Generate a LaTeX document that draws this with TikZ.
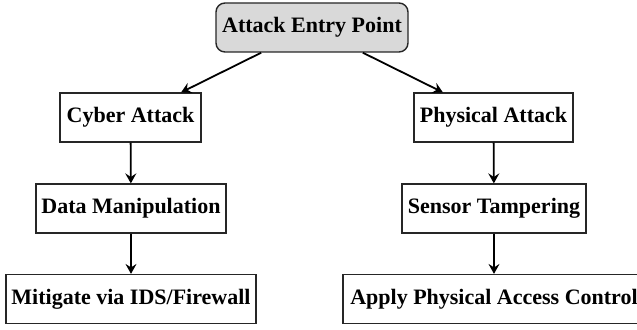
\documentclass[tikz,border=0pt]{standalone}
\usepackage{fontspec}
\setmainfont{Liberation Serif}[BoldFont={Liberation Serif Bold}]
\usetikzlibrary{arrows.meta}
\begin{document}
\begin{tikzpicture}[x=0.5pt,y=-0.5pt,
  box/.style={draw=black!85, line width=0.6pt, minimum height=24.5pt, inner sep=0pt,
    font=\fontsize{11}{13}\selectfont\bfseries, align=center},
  rootbox/.style={box, fill=black!15, rounded corners=4.5pt, line width=0.7pt},
  conn/.style={-{Stealth[length=5pt,width=5.5pt,inset=1.8pt]}, line width=0.9pt}]
\useasboundingbox (0,0) rectangle (637,330);
\node[rootbox, minimum width=96pt] (root) at (312,27.5) {Attack Entry Point};
\node[box, minimum width=70.5pt] (cyber) at (130.5,117.5) {Cyber Attack};
\node[box, minimum width=95pt] (data) at (131,208.5) {Data Manipulation};
\node[box, minimum width=125pt] (mit) at (131,299) {Mitigate via IDS/Firewall};
\node[box, minimum width=79.5pt] (phys) at (493.5,117.5) {Physical Attack};
\node[box, minimum width=92pt] (sens) at (494,208.5) {Sensor Tampering};
\node[box, minimum width=151pt] (apply) at (494,299) {Apply Physical Access Control};
\draw[conn] (root) -- (cyber);
\draw[conn] (root) -- (phys);
\draw[conn] (cyber) -- (data);
\draw[conn] (data) -- (mit);
\draw[conn] (phys) -- (sens);
\draw[conn] (sens) -- (apply);
\end{tikzpicture}
\end{document}
